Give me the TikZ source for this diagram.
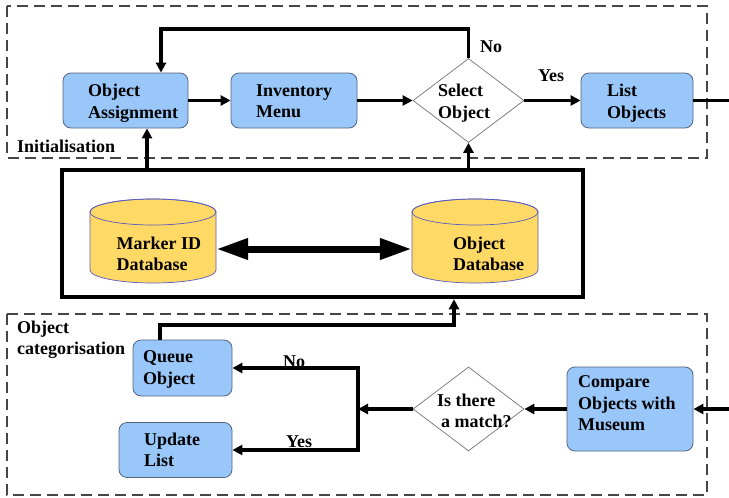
\documentclass[tikz,border=0pt]{standalone}
\usepackage{fontspec}
\setmainfont{Liberation Serif}
\usetikzlibrary{shapes.geometric,arrows.meta}
\definecolor{boxblue}{RGB}{153,199,250}
\definecolor{boxline}{RGB}{85,100,125}
\definecolor{dbyellow}{RGB}{255,217,102}
\definecolor{dbline}{RGB}{90,90,190}
\definecolor{dashgray}{RGB}{70,70,70}
\newcommand\dgfont{\bfseries\fontsize{18}{21.5}\selectfont}
\begin{document}
\begin{tikzpicture}[x=1pt,y=-1pt,
 blk/.style={draw=boxline, fill=boxblue, rounded corners=8pt, line width=0.8pt, inner sep=0pt},
 dec/.style={draw=black!55, fill=white, diamond, line width=0.7pt, inner sep=0pt, minimum width=111pt, minimum height=84pt},
 txt/.style={font=\dgfont, align=left, inner sep=0pt, anchor=north west},
 lbl/.style={font=\dgfont, inner sep=0pt, anchor=base west},
 arr/.style={line width=3.2pt, -{Triangle[length=10pt,width=10pt]}},
 arrtwo/.style={line width=3.2pt, {Triangle[length=10pt,width=10pt]}-{Triangle[length=10pt,width=10pt]}},
 ln/.style={line width=3.2pt},
 grp/.style={draw=dashgray, line width=1.3pt, dash pattern=on 11pt off 6pt},
 dbl/.style={line width=7pt, {Triangle[length=32pt,width=20pt]}-{Triangle[length=32pt,width=20pt]}},
 cyl/.style={fill=dbyellow, draw=dbline, line width=0.7pt},
]
\useasboundingbox (0,0) rectangle (729,498);
% group frames
\draw[grp] (7,6) rectangle (707,158);
\draw[grp] (7,314) rectangle (707,495);
\node[lbl] (linit) at (17,152) {Initialisation};
\node[txt] (lcat) at (17,320.6) {Object\\categorisation};

% top row
\node[blk, minimum width=125pt, minimum height=55pt] (oa) at (125.5,100.5) {};
\node[txt] (toa) at (88,84.3) {Object\\Assignment};
\node[blk, minimum width=126pt, minimum height=55pt] (inv) at (294,100.5) {};
\node[txt] (tinv) at (256,84.3) {Inventory\\Menu};
\node[dec] (sel) at (468.5,100.5) {};
\node[txt] (tsel) at (438,84.3) {Select\\Object};
\node[blk, minimum width=112pt, minimum height=55pt] (lst) at (637,100.5) {};
\node[txt] (tlst) at (607,84.3) {List\\Objects};
\coordinate (rout) at (729,100.5);
\coordinate (lp) at (161,29);

\draw[arr] (oa.east) -- (inv.west);
\draw[arr] (inv.east) -- (sel.west);
\draw[arr] (sel.east) -- (lst.west);
\draw[ln] (lst.east) -- (rout);
\draw[arr] (sel.north) -- (sel.north |- lp) -- (lp) -- (lp |- oa.north);
\node[lbl] (lno1) at (480,52) {No};
\node[lbl] (lyes1) at (538,81) {Yes};

% middle database block
\node[draw, line width=4.5pt, minimum width=521pt, minimum height=127pt, inner sep=0pt] (mid) at (322.5,233.5) {};
\node[minimum width=126pt, minimum height=84pt, inner sep=0pt] (mk) at (153,241) {};
\filldraw[cyl] (90,212) -- (90,270) arc[start angle=180,end angle=360,x radius=63pt,y radius=13pt] -- (216,212) arc[start angle=0,end angle=180,x radius=63pt,y radius=13pt] -- cycle;
\draw[dbline, line width=0.7pt] (153,212) ellipse [x radius=63pt, y radius=13pt];
\node[txt] (tmk) at (116.5,236.6) {Marker ID\\Database};
\node[minimum width=126pt, minimum height=84pt, inner sep=0pt] (od) at (475,241) {};
\filldraw[cyl] (412,212) -- (412,270) arc[start angle=180,end angle=360,x radius=63pt,y radius=13pt] -- (538,212) arc[start angle=0,end angle=180,x radius=63pt,y radius=13pt] -- cycle;
\draw[dbline, line width=0.7pt] (475,212) ellipse [x radius=63pt, y radius=13pt];
\node[txt] (tod) at (453,236.6) {Object\\Database};
\draw[dbl] ([yshift=-8pt]mk.east) -- ([yshift=-8pt]od.west);

\coordinate (c1) at (147,0);
\draw[arr] (mid.north -| c1) -- (oa.south -| c1);
\draw[arr] (mid.north -| sel.south) -- (sel.south);

% bottom row
\node[blk, minimum width=99pt, minimum height=56pt] (qo) at (182.5,368) {};
\node[txt] (tqo) at (143,350.6) {Queue\\Object};
\node[blk, minimum width=113pt, minimum height=55pt] (ul) at (175.5,450) {};
\node[txt] (tul) at (144,432.6) {Update\\List};
\node[dec] (match) at (468.5,409) {};
\node[txt] (tmatch) at (437,393.6) {Is there\\\hspace*{4pt}a match?};
\node[blk, minimum width=126pt, minimum height=84pt] (cmp) at (630,409) {};
\node[txt] (tcmp) at (578,375.6) {Compare\\Objects with\\Museum};
\coordinate (rin) at (729,409);
\coordinate (jt) at (358,368);
\coordinate (jb) at (358,450);
\coordinate (qq) at (160,325);
\coordinate (qr) at (454,325);

\draw[arr] (rin) -- (cmp.east);
\draw[arr] (cmp.west) -- (match.east);
\draw[arr] (match.west) -- (match.west -| jt);
\draw[arrtwo] (qo.east) -- (jt) -- (jb) -- (ul.east);
\draw[arr] (qq |- qo.north) -- (qq) -- (qr) -- (qr |- mid.south);
\node[lbl] (lno2) at (283,367) {No};
\node[lbl] (lyes2) at (286,447) {Yes};
\end{tikzpicture}
\end{document}
